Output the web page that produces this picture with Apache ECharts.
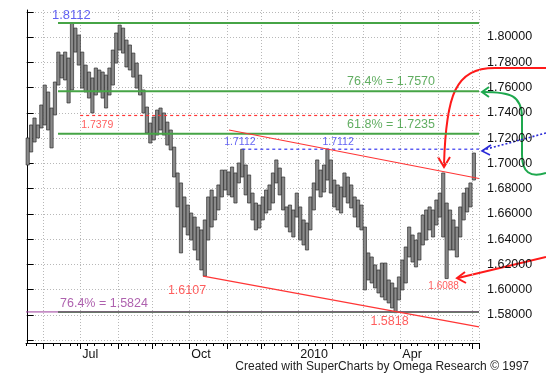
<!DOCTYPE html>
<html><head><meta charset="utf-8">
<script src="https://cdn.jsdelivr.net/npm/echarts@6/dist/echarts.min.js"></script>
<style>html,body{margin:0;padding:0;background:#fff}#c{width:546px;height:384px}</style>
</head><body><div id="c"></div>
<script>
// ---------- data ----------
const monthNames = ['May','Jun','Jul','Aug','Sep','Oct','Nov','Dec','Jan','Feb','Mar','Apr','May','Jun'];
const monthYears = [2009,2009,2009,2009,2009,2009,2009,2009,2010,2010,2010,2010,2010,2010];
const barsPerMonth = [5,11,11,10,11,11,10,11,10,9,11,11,10,2];
const quarterLabels = {'Jul 2009':'Jul','Oct 2009':'Oct','Jan 2010':'2010','Apr 2010':'Apr'};

const highs = [
1.7201,1.7304,1.7359,1.7304,1.7462,1.7620,1.7565,1.7438,1.7644,1.7881,
1.7858,1.7881,1.7834,1.8112,1.8071,1.8016,1.7881,1.7778,1.7723,1.7676,
1.7755,1.7739,1.7723,1.7699,1.7755,1.7897,1.8032,1.8095,1.8071,1.7976,
1.7937,1.7873,1.7794,1.7699,1.7581,1.7446,1.7319,1.7367,1.7422,1.7438,
1.7399,1.7327,1.7264,1.7129,1.6924,1.6845,1.6734,1.6670,1.6607,1.6575,
1.6496,1.6473,1.6552,1.6734,1.6789,1.6734,1.6829,1.6947,1.6947,1.6932,
1.6971,1.6924,1.7003,1.7112,1.6987,1.6908,1.6765,1.6686,1.6670,1.6734,
1.6789,1.6829,1.6924,1.7027,1.6963,1.6892,1.6655,1.6670,1.6631,1.6765,
1.6655,1.6552,1.6528,1.6734,1.6845,1.7027,1.6947,1.6987,1.7112,1.7027,
1.6868,1.6829,1.6813,1.6924,1.6892,1.6829,1.6734,1.6710,1.6670,1.6496,
1.6291,1.6259,1.6196,1.6156,1.6211,1.6211,1.6077,1.6053,1.6014,1.6101,
1.6235,1.6338,1.6496,1.6433,1.6393,1.6449,1.6591,1.6631,1.6655,1.6631,
1.6710,1.6765,1.6924,1.6686,1.6631,1.6552,1.6496,1.6655,1.6765,1.6805,
1.6845,1.7082];
const lows = [
1.6987,1.7090,1.7169,1.7201,1.7280,1.7304,1.7264,1.7122,1.7383,1.7620,
1.7676,1.7660,1.7478,1.7581,1.7881,1.7778,1.7596,1.7565,1.7517,1.7399,
1.7541,1.7565,1.7517,1.7438,1.7541,1.7620,1.7794,1.7897,1.7873,1.7763,
1.7739,1.7683,1.7596,1.7541,1.7399,1.7240,1.7161,1.7185,1.7224,1.7264,
1.7224,1.7145,1.7106,1.6892,1.6655,1.6291,1.6496,1.6433,1.6393,1.6314,
1.6235,1.6156,1.6107,1.6393,1.6496,1.6552,1.6631,1.6734,1.6789,1.6750,
1.6734,1.6686,1.6845,1.6892,1.6750,1.6686,1.6552,1.6473,1.6488,1.6552,
1.6607,1.6631,1.6686,1.6845,1.6750,1.6631,1.6496,1.6457,1.6417,1.6575,
1.6393,1.6354,1.6314,1.6473,1.6631,1.6789,1.6734,1.6773,1.6868,1.6765,
1.6655,1.6631,1.6607,1.6734,1.6686,1.6647,1.6575,1.6496,1.6473,1.5998,
1.6077,1.6053,1.6014,1.5974,1.5942,1.5919,1.5895,1.5855,1.5818,1.5919,
1.5998,1.6053,1.6259,1.6219,1.6180,1.6235,1.6354,1.6393,1.6473,1.6417,
1.6512,1.6575,1.6417,1.6088,1.6314,1.6314,1.6259,1.6417,1.6552,1.6615,
1.6655,1.6868];

// annotation levels (bar-index, price)
const fibLevels = [1.8112, 1.7570, 1.7235, 1.5824];
const fibTexts = ['1.8112', '76.4% = 1.7570', '61.8% = 1.7235', '76.4% = 1.5824'];
const fibStart = 8.9;
const supportLevel = 1.7379, supportStart = 15.4;
const resistanceLevel = 1.7112, resistanceStart = 63;
const axisEnd = 132.5, axisStart = -0.5;
const upperTrend = [[59.1, 1.7264], [132.5, 1.6880]];
const lowerTrend = [[51.5, 1.6107], [132.5, 1.5705]];
const pointTexts = ['1.7379', '1.7112', '1.7112', '1.6107', '1.5818', '1.6088'];
const pointAnchors = [[15.4, 1.7379], [63, 1.7112], [88, 1.7112], [51.5, 1.6107], [108, 1.5818], [123, 1.6088]];

// ---------- build ----------
const FONT = '"Liberation Sans", Arial, Helvetica, sans-serif';
const categories = [];
monthNames.forEach((m, k) => { for (let j = 0; j < barsPerMonth[k]; j++) categories.push(m + ' ' + monthYears[k]); });
const monthStart = categories.map((c, i) => i > 0 && c !== categories[i - 1]);
const priceData = highs.map((h, i) => [i, lows[i], h]);

const GREEN = '#46a446', GREEN_T = '#3a983a', RED = '#ff3535', BLUE = '#3838f0', PURPLE = '#9a3a9a';

function hline(val, from, color, width, type, z) {
  return {type: 'line', xAxisIndex: 2, yAxisIndex: 0, symbol: 'none', silent: true, z: z || 3,
    lineStyle: {color: color, width: width, type: type || 'solid'},
    data: [[from, val], [axisEnd, val]], animation: false};
}

const fibStyles = [
  {color: BLUE, align: 'left', vAlign: 'bottom', pos: [-6, -1], size: 13, at: 'start'},
  {color: GREEN_T, align: 'right', vAlign: 'bottom', pos: [-44, -3], size: 12.5, at: 'end'},
  {color: GREEN_T, align: 'right', vAlign: 'bottom', pos: [-44, -3], size: 12.5, at: 'end'},
  {color: PURPLE, align: 'left', vAlign: 'bottom', pos: [2, -2], size: 12.5, at: 'start'}
];
const pointStyles = [
  {color: RED, align: 'left', vAlign: 'top', pos: [1, 4], size: 10.5},
  {color: BLUE, align: 'left', vAlign: 'bottom', pos: [-18, -2], size: 10.5},
  {color: BLUE, align: 'left', vAlign: 'bottom', pos: [-5, -2], size: 10.5},
  {color: RED, align: 'right', vAlign: 'top', pos: [3, 8], size: 12.5},
  {color: RED, align: 'center', vAlign: 'top', pos: [-6, 2], size: 12.5},
  {color: RED, align: 'center', vAlign: 'top', pos: [-3, 3], size: 10}
];
const labelItems = [];
fibLevels.forEach((v, k) => {
  const s = fibStyles[k];
  labelItems.push({value: [s.at === 'start' ? fibStart : axisEnd, v],
    label: {show: true, position: s.pos, formatter: fibTexts[k], color: s.color, fontSize: s.size,
      fontFamily: FONT, align: s.align, verticalAlign: s.vAlign}});
});
pointAnchors.forEach((p, k) => {
  const s = pointStyles[k];
  labelItems.push({value: p, label: {show: true, position: s.pos, formatter: pointTexts[k], color: s.color,
    fontSize: s.size, fontFamily: FONT, align: s.align, verticalAlign: s.vAlign}});
});

const series = [
  {type: 'custom', name: 'price', xAxisIndex: 0, yAxisIndex: 0, z: 2, animation: false, silent: true,
    data: priceData,
    renderItem: function (params, api) {
      const top = api.coord([api.value(0), api.value(2)]);
      const bot = api.coord([api.value(0), api.value(1)]);
      const w = 3.2;
      return {type: 'rect', shape: {x: top[0] - w / 2, y: top[1], width: w, height: Math.max(1, bot[1] - top[1])},
        style: {fill: '#8a8a8a', stroke: '#2e2e2e', lineWidth: 0.7}};
    }},
  hline(fibLevels[0], fibStart, GREEN, 2),
  hline(fibLevels[1], fibStart, GREEN, 2),
  hline(fibLevels[2], fibStart, GREEN, 2),
  hline(fibLevels[3], fibStart, GREEN, 2, 'solid', 3),
  hline(fibLevels[3], axisStart, PURPLE, 1, 'solid', 4),
  hline(supportLevel, supportStart, RED, 1.2, [3, 3]),
  hline(resistanceLevel, resistanceStart, BLUE, 1.2, [3, 3]),
  {type: 'line', xAxisIndex: 2, yAxisIndex: 0, symbol: 'none', silent: true, z: 4, animation: false,
    lineStyle: {color: RED, width: 1.2}, data: upperTrend},
  {type: 'line', xAxisIndex: 2, yAxisIndex: 0, symbol: 'none', silent: true, z: 4, animation: false,
    lineStyle: {color: RED, width: 1.2}, data: lowerTrend},
  {type: 'scatter', xAxisIndex: 2, yAxisIndex: 0, symbolSize: 0.01, silent: true, z: 5, animation: false,
    itemStyle: {color: 'rgba(0,0,0,0)'}, data: labelItems, labelLayout: {hideOverlap: false}}
];

const graphic = [
  // red curved arrow (top)
  {type: 'line', shape: {x1: 546, y1: 68, x2: 495, y2: 68}, style: {stroke: '#ff1a1a', lineWidth: 2}},
  {type: 'bezierCurve', shape: {x1: 495, y1: 68, cpx1: 455, cpy1: 68, cpx2: 446, cpy2: 95, x2: 444, y2: 165},
    style: {stroke: '#ff1a1a', lineWidth: 2, fill: null}},
  {type: 'polyline', shape: {points: [[438, 157], [444, 167], [450, 157]]}, style: {stroke: '#ff1a1a', lineWidth: 2, fill: null}},
  // green curved arrow
  {type: 'bezierCurve', shape: {x1: 546, y1: 173, cpx1: 530, cpy1: 178, cpx2: 522, cpy2: 172, x2: 522, y2: 155},
    style: {stroke: '#1ea84e', lineWidth: 2, fill: null}},
  {type: 'line', shape: {x1: 522, y1: 155, x2: 522, y2: 118}, style: {stroke: '#1ea84e', lineWidth: 2}},
  {type: 'bezierCurve', shape: {x1: 522, y1: 118, cpx1: 522, cpy1: 95, cpx2: 510, cpy2: 92, x2: 483, y2: 92},
    style: {stroke: '#1ea84e', lineWidth: 2, fill: null}},
  {type: 'polyline', shape: {points: [[489, 87], [482, 92], [489, 97]]}, style: {stroke: '#1ea84e', lineWidth: 2, fill: null}},
  // blue dotted arrow
  {type: 'line', shape: {x1: 546, y1: 133, x2: 483, y2: 150}, style: {stroke: '#2a2ad8', lineWidth: 1.6, lineDash: [2, 2]}},
  {type: 'polyline', shape: {points: [[491, 145], [482, 151], [490, 155]]}, style: {stroke: '#2a2ad8', lineWidth: 1.6, fill: null}},
  // red lower arrow
  {type: 'line', shape: {x1: 546, y1: 257, x2: 458, y2: 278}, style: {stroke: '#ff1a1a', lineWidth: 2}},
  {type: 'polyline', shape: {points: [[465, 272], [457, 278], [466, 283]]}, style: {stroke: '#ff1a1a', lineWidth: 2, fill: null}},
  // footer
  {type: 'text', x: 529, y: 361, style: {text: 'Created with SuperCharts by Omega Research \u00a9 1997',
    fill: '#222', fontSize: 12, fontFamily: FONT, align: 'right', verticalAlign: 'top'}}
];

const chart = echarts.init(document.getElementById('c'), null, {renderer: 'canvas', width: 546, height: 384});
chart.setOption({
  animation: false,
  backgroundColor: '#ffffff',
  grid: {left: 26, right: 67, top: 10, bottom: 41, containLabel: false, outerBoundsMode: 'none'},
  xAxis: [
    {type: 'category', data: categories, position: 'bottom', boundaryGap: true,
      axisLine: {show: true, lineStyle: {color: '#000', width: 1}},
      axisTick: {show: true, length: 6, interval: (i) => monthStart[i], lineStyle: {color: '#000'}},
      axisLabel: {show: true, interval: (i, v) => monthStart[i] && quarterLabels[v] !== undefined,
        formatter: (v) => quarterLabels[v] || '', align: 'left', margin: 5, color: '#111', fontSize: 12.5, fontFamily: FONT},
      splitLine: {show: true, interval: (i) => monthStart[i], lineStyle: {color: '#b8b8b8', type: [1, 2]}}},
    {type: 'category', data: categories, position: 'bottom', boundaryGap: true,
      axisLine: {show: false},
      axisTick: {show: true, length: 3, interval: (i) => (i % 5 === 0 || i % 5 === 3), lineStyle: {color: '#000'}},
      axisLabel: {show: false}, splitLine: {show: false}},
    {type: 'value', min: axisStart, max: axisEnd, show: false}
  ],
  yAxis: [
    {type: 'value', position: 'right', min: 1.5578, max: 1.8214, splitNumber: 13,
      axisLine: {show: true, lineStyle: {color: '#000'}},
      axisTick: {show: true, length: 6, lineStyle: {color: '#000'}},
      axisLabel: {formatter: (v) => (v < 1.57 || v > 1.81) ? '' : v.toFixed(5), margin: 8, color: '#111',
        fontSize: 12.5, fontFamily: FONT, showMinLabel: false, showMaxLabel: false},
      splitLine: {show: true, showMinLine: false, showMaxLine: false, lineStyle: {color: '#b8b8b8', type: [1, 2]}}}
  ],
  series: series,
  graphic: graphic
});
</script>
</body></html>
